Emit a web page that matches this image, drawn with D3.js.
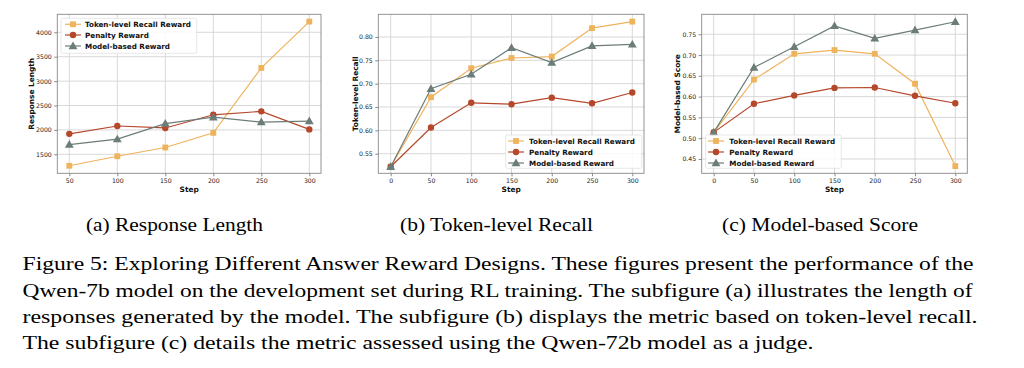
<!DOCTYPE html>
<html><head><meta charset="utf-8">
<script src="https://cdn.jsdelivr.net/npm/d3@7"></script>
<style>body{margin:0;background:#fff}svg{display:block}</style>
</head><body>
<svg id="c" width="1024" height="368"></svg>
<script>
// ---- data ----
const seriesNames = ["Token-level Recall Reward", "Penalty Reward", "Model-based Reward"];
const stepsA = [50, 100, 150, 200, 250, 300];
const stepsBC = [0, 50, 100, 150, 200, 250, 300];
const lenToken = [1265, 1460, 1640, 1940, 3270, 4220];
const lenPenalty = [1920, 2080, 2040, 2310, 2380, 2010];
const lenModel = [1700, 1810, 2130, 2260, 2160, 2180];
const recToken = [0.522, 0.671, 0.733, 0.755, 0.758, 0.819, 0.833];
const recPenalty = [0.522, 0.606, 0.659, 0.656, 0.670, 0.658, 0.681];
const recModel = [0.522, 0.689, 0.720, 0.777, 0.745, 0.781, 0.784];
const scoreToken = [0.514, 0.641, 0.703, 0.712, 0.703, 0.631, 0.433];
const scorePenalty = [0.514, 0.583, 0.603, 0.621, 0.622, 0.602, 0.584];
const scoreModel = [0.514, 0.670, 0.720, 0.770, 0.740, 0.760, 0.780];
const ticksA = [1500, 2000, 2500, 3000, 3500, 4000];
const ticksB = [0.55, 0.60, 0.65, 0.70, 0.75, 0.80];
const ticksC = [0.45, 0.50, 0.55, 0.60, 0.65, 0.70, 0.75];
const subcaptions = ["(a) Response Length", "(b) Token-level Recall", "(c) Model-based Score"];
const captionLines = [
 "Figure 5: Exploring Different Answer Reward Designs. These figures present the performance of the",
 "Qwen-7b model on the development set during RL training. The subfigure (a) illustrates the length of",
 "responses generated by the model. The subfigure (b) displays the metric based on token-level recall.",
 "The subfigure (c) details the metric assessed using the Qwen-72b model as a judge."
];

const colors = ["#EFB35C", "#B5472A", "#6C7C79"];
const markers = [d3.symbolSquare, d3.symbolCircle, d3.symbolTriangle];
const markerSizes = [34, 32, 34];

const svg = d3.select("#c");

const panels = [
 {x0:57.3, x1:321, xd:[50,300], xr:[69.3,309.3], steps:stepsA, data:[lenToken,lenPenalty,lenModel],
  yd:[1111,4369], ticks:ticksA, fmt:d3.format("d"), xticks:stepsA, ylabel:"Response Length", ylx:31.5,
  leg:{x:61, y:18.3, w:135.7, h:35, lx:65, tx:85, rows:[24.3,35,46]}},
 {x0:378.3, x1:644, xd:[0,300], xr:[390.7,632.3], steps:stepsBC, data:[recToken,recPenalty,recModel],
  yd:[0.508,0.8486], ticks:ticksB, fmt:d3.format(".2f"), xticks:stepsBC, ylabel:"Token-level Recall", ylx:355,
  leg:{x:505.7, y:135, w:136, h:33.3, lx:508, tx:529, rows:[141,152,163]}},
 {x0:701.7, x1:967.3, xd:[0,300], xr:[713.7,955.3], steps:stepsBC, data:[scoreToken,scorePenalty,scoreModel],
  yd:[0.4156,0.798], ticks:ticksC, fmt:d3.format(".2f"), xticks:stepsBC, ylabel:"Model-based Score", ylx:677.5,
  leg:{x:705.7, y:135, w:135.6, h:33.3, lx:708, tx:729.3, rows:[141,152,163]}}
];
const plotTop = 14.3, plotBottom = 173.3;

panels.forEach(p => {
  const x = d3.scaleLinear().domain(p.xd).range(p.xr);
  const y = d3.scaleLinear().domain(p.yd).range([plotBottom, plotTop]);
  const g = svg.append("g");
  // grid
  g.selectAll(".gx").data(p.xticks).join("line")
    .attr("x1", d=>x(d)).attr("x2", d=>x(d)).attr("y1", plotTop).attr("y2", plotBottom)
    .attr("stroke", "#d4d4d4").attr("stroke-width", 0.9);
  g.selectAll(".gy").data(p.ticks).join("line")
    .attr("x1", p.x0).attr("x2", p.x1).attr("y1", d=>y(d)).attr("y2", d=>y(d))
    .attr("stroke", "#d4d4d4").attr("stroke-width", 0.9);
  // axes
  const xa = d3.axisBottom(x).tickValues(p.xticks).tickSize(3).tickPadding(2.5);
  const ya = d3.axisLeft(y).tickValues(p.ticks).tickFormat(p.fmt).tickSize(3).tickPadding(2.5);
  const gx = g.append("g").attr("transform", `translate(0,${plotBottom})`).call(xa);
  const gy = g.append("g").attr("transform", `translate(${p.x0},0)`).call(ya);
  [gx, gy].forEach(a => {
    a.select(".domain").remove();
    a.selectAll("line").attr("stroke", "#555").attr("stroke-width", 0.7);
    a.selectAll("text").attr("font-family", "DejaVu Sans").attr("font-size", 6.2).attr("fill", "#222");
  });
  // frame
  g.append("rect").attr("x", p.x0).attr("y", plotTop).attr("width", p.x1 - p.x0).attr("height", plotBottom - plotTop)
    .attr("fill", "none").attr("stroke", "#888").attr("stroke-width", 0.9);
  // lines
  p.data.forEach((vals, i) => {
    const pts = vals.map((v, j) => [p.steps[j], v]);
    g.append("path").datum(pts)
      .attr("d", d3.line().x(d=>x(d[0])).y(d=>y(d[1])))
      .attr("fill", "none").attr("stroke", colors[i]).attr("stroke-width", 1.2);
    g.selectAll(null).data(pts).join("path")
      .attr("transform", d=>`translate(${x(d[0])},${y(d[1]) + (i===2?0.6:0)})`)
      .attr("d", d3.symbol().type(markers[i]).size(markerSizes[i]))
      .attr("fill", colors[i]);
  });
  // labels
  g.append("text").attr("x", (p.x0 + p.x1)/2).attr("y", 192)
    .attr("text-anchor", "middle").attr("font-family", "DejaVu Sans").attr("font-weight", "bold")
    .attr("font-size", 7.4).attr("fill", "#111").text("Step");
  g.append("text").attr("transform", `translate(${p.ylx},${(plotTop+plotBottom)/2}) rotate(-90)`)
    .attr("text-anchor", "middle").attr("dominant-baseline", "central")
    .attr("font-family", "DejaVu Sans").attr("font-weight", "bold")
    .attr("font-size", 7.4).attr("fill", "#111").text(p.ylabel);
  // legend
  const L = p.leg;
  g.append("rect").attr("x", L.x).attr("y", L.y).attr("width", L.w).attr("height", L.h)
    .attr("rx", 1.5).attr("fill", "#fff").attr("fill-opacity", 0.85).attr("stroke", "#ddd").attr("stroke-width", 0.7);
  seriesNames.forEach((n, i) => {
    const ry = L.rows[i];
    g.append("line").attr("x1", L.lx).attr("x2", L.lx + 16).attr("y1", ry).attr("y2", ry)
      .attr("stroke", colors[i]).attr("stroke-width", 1.2);
    g.append("path").attr("transform", `translate(${L.lx + 8},${ry + (i===2?0.6:0)})`)
      .attr("d", d3.symbol().type(markers[i]).size(markerSizes[i])).attr("fill", colors[i]);
    g.append("text").attr("x", L.tx).attr("y", ry).attr("dominant-baseline", "central")
      .attr("font-family", "DejaVu Sans").attr("font-weight", "bold").attr("font-size", 7.2)
      .attr("fill", "#111").text(n);
  });
});

// subcaptions
const subX = [[86, 263], [400, 593], [722, 918]];
subcaptions.forEach((t, i) => {
  svg.append("text").attr("x", subX[i][0]).attr("y", 231)
    .attr("font-family", "Liberation Serif").attr("font-size", 19.5).attr("fill", "#000")
    .attr("textLength", subX[i][1] - subX[i][0]).attr("lengthAdjust", "spacingAndGlyphs").text(t);
});
// caption
const capY = [270, 297, 323, 349];
const capW = [951, 950, 955, 791];
captionLines.forEach((t, i) => {
  svg.append("text").attr("x", 22.5).attr("y", capY[i])
    .attr("font-family", "Liberation Serif").attr("font-size", 19.5).attr("fill", "#000")
    .attr("textLength", capW[i]).attr("lengthAdjust", "spacingAndGlyphs").text(t);
});
</script>
</body></html>
